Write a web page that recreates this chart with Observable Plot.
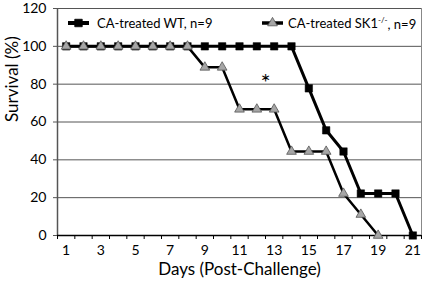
<!DOCTYPE html>
<html>
<head>
<meta charset="utf-8">
<script src="https://cdn.jsdelivr.net/npm/d3@7"></script>
<script src="https://cdn.jsdelivr.net/npm/@observablehq/plot@0.6"></script>
<style>
  body { margin: 0; background: #fff; }
  #chart svg { display: block; }
</style>
</head>
<body>
<div id="chart"></div>
<script>
const days = [1,2,3,4,5,6,7,8,9,10,11,12,13,14,15,16,17,18,19,20,21];
const wtSurvival = [100,100,100,100,100,100,100,100,100,100,100,100,100,100,77.8,55.6,44.4,22.2,22.2,22.2,0];
const sk1Days = [1,2,3,4,5,6,7,8,9,10,11,12,13,14,15,16,17,18,19];
const sk1Survival = [100,100,100,100,100,100,100,100,88.9,88.9,66.7,66.7,66.7,44.4,44.4,44.4,22.2,11.1,0];
const xTickLabels = [1,3,5,7,9,11,13,15,17,19,21];
const yTicks = [0,20,40,60,80,100,120];
const seriesNames = ["CA-treated WT, n=9", "CA-treated SK1", "-/-", ", n=9"];
const asterisk = [{day: 12.5, value: 84, label: "*"}];

const wt = days.map((d, i) => ({day: d, value: wtSurvival[i]}));
const sk1 = sk1Days.map((d, i) => ({day: d, value: sk1Survival[i]}));
const bounds = d3.range(0.5, 22, 1);

const font = "Lato, 'Open Sans', sans-serif";
const W = 425, H = 285;
const mL = 57, mR = 4, mT = 8, mB = 50;

const plot = Plot.plot({
  width: W, height: H,
  marginLeft: mL, marginRight: mR, marginTop: mT, marginBottom: mB,
  style: {fontFamily: font, fontSize: "13px", color: "#000", background: "#fff", overflow: "visible"},
  x: {domain: [0.5, 21.5]},
  y: {domain: [0, 120]},
  marks: [
    Plot.ruleY(yTicks.filter(v => v > 0), {stroke: "#555", strokeWidth: 1}),
    Plot.ruleX([21.5], {stroke: "#888", strokeWidth: 1}),
    Plot.ruleX([0.5], {stroke: "#555", strokeWidth: 1.5}),
    Plot.ruleY([0], {stroke: "#000", strokeWidth: 1.5}),
    Plot.axisY({ticks: yTicks, tickSize: 4, tickPadding: 7, label: null, fontSize: 14, stroke: "#555"}),
    Plot.axisX({ticks: bounds, tickSize: 4, tickFormat: () => "", label: null, stroke: "#000"}),
    Plot.axisX({ticks: xTickLabels, tickSize: 0, tickPadding: 10, label: null, fontSize: 14}),
    Plot.text(["Days (Post-Challenge)"], {frameAnchor: "bottom", dy: 39, fontSize: 17, text: d => d}),
    Plot.text(["Survival (%)"], {frameAnchor: "left", dx: -45, rotate: -90, fontSize: 17, text: d => d}),
    Plot.line(wt, {x: "day", y: "value", stroke: "#000", strokeWidth: 3}),
    Plot.dot(wt, {x: "day", y: "value", symbol: "square", r: 4.2, fill: "#000", stroke: "#000", strokeWidth: 0.5}),
    Plot.line(sk1, {x: "day", y: "value", stroke: "#000", strokeWidth: 2.5}),
    Plot.dot(sk1, {x: "day", y: "value", symbol: "triangle", r: 3.6, fill: "#a6a6a6", stroke: "#555", strokeWidth: 0.8}),
    Plot.text(asterisk, {x: "day", y: "value", text: "label", fontSize: 24, dy: 7, fill: "#000"})
  ]
});

// Legend inside the plot area, top
const ns = "http://www.w3.org/2000/svg";
const lg = document.createElementNS(ns, "g");
lg.setAttribute("font-family", font);
lg.setAttribute("font-size", "13");
lg.setAttribute("text-anchor", "start");
plot.appendChild(lg);
const g = d3.select(lg);
const ly = mT + 15;
function entry(x0, y0, symbol, size, fill, stroke, lw) {
  g.append("line").attr("x1", x0).attr("x2", x0 + 21).attr("y1", y0).attr("y2", y0)
    .attr("stroke", "#000").attr("stroke-width", lw);
  g.append("path").attr("transform", `translate(${x0 + 10.5},${y0})`)
    .attr("d", d3.symbol(symbol, size)())
    .attr("fill", fill).attr("stroke", stroke).attr("stroke-width", 0.8);
}
entry(mL + 11, ly, d3.symbolSquare, 56, "#000", "#000", 4);
g.append("text").attr("x", mL + 40).attr("y", ly).attr("dy", "0.35em")
  .attr("text-anchor", "start").attr("fill", "#000").text(seriesNames[0]);
entry(mL + 205, ly, d3.symbolTriangle, 41, "#a6a6a6", "#555", 3.5);
const t2 = g.append("text").attr("x", mL + 231).attr("y", ly).attr("dy", "0.35em")
  .attr("text-anchor", "start").attr("fill", "#000");
t2.append("tspan").text(seriesNames[1]);
t2.append("tspan").attr("font-size", 8).attr("dy", "-0.6em").text(seriesNames[2]);
t2.append("tspan").attr("dy", "0.45em").text(seriesNames[3]);

document.getElementById("chart").appendChild(plot);
</script>
</body>
</html>
